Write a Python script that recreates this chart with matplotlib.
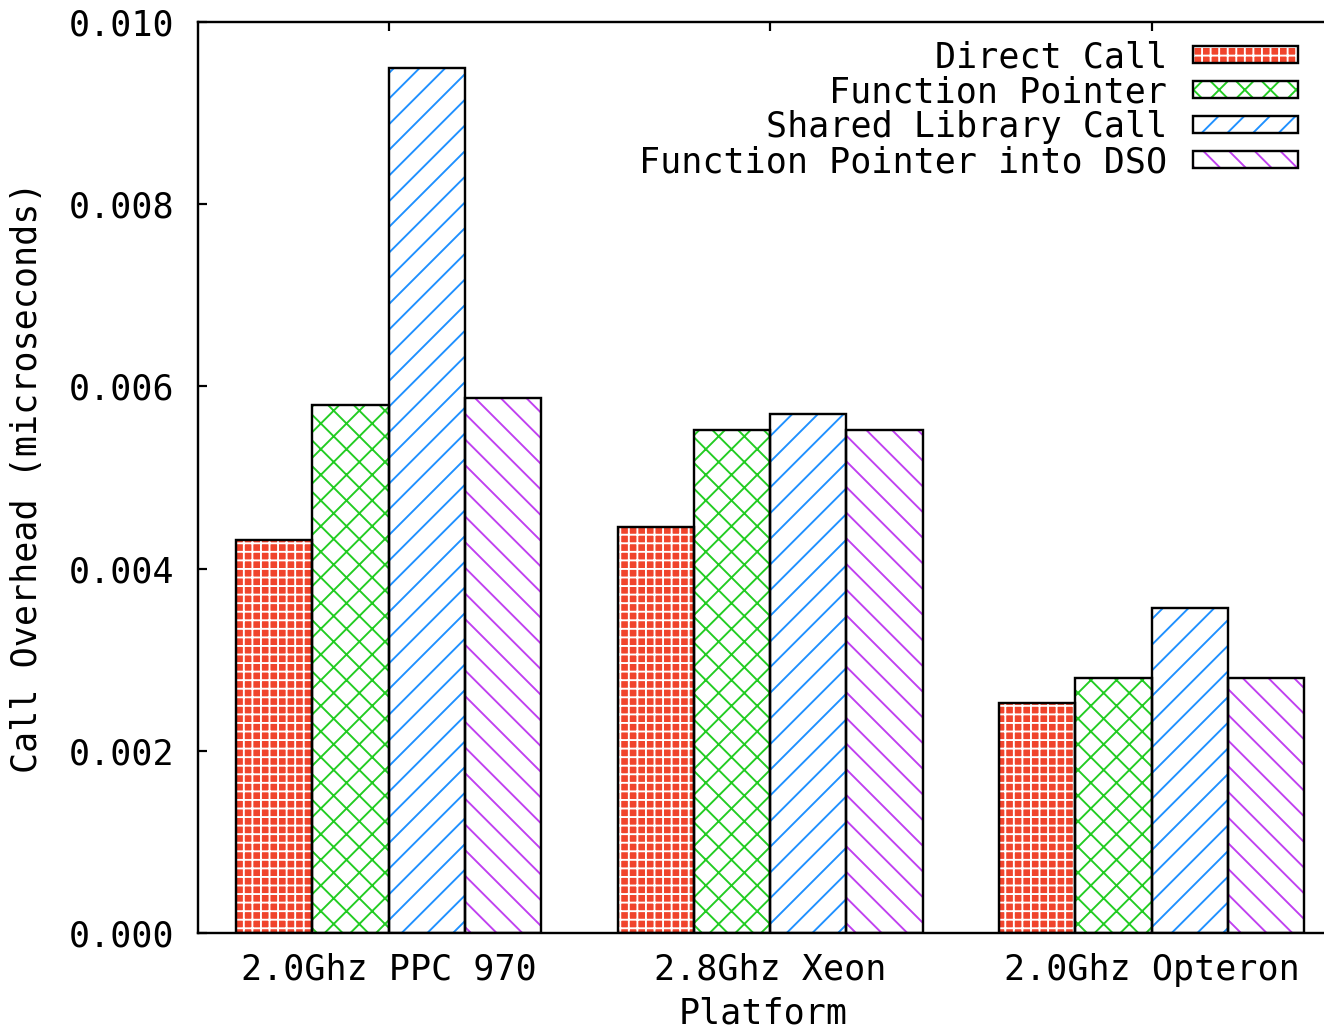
import matplotlib
matplotlib.use("Agg")
import matplotlib.pyplot as plt
from matplotlib.patches import Rectangle
from matplotlib.legend_handler import HandlerTuple
import numpy as np

platforms = ["2.0Ghz PPC 970", "2.8Ghz Xeon", "2.0Ghz Opteron"]
series_names = ["Direct Call", "Function Pointer", "Shared Library Call",
                "Function Pointer into DSO"]
direct_call = [0.00431, 0.00446, 0.00252]
function_pointer = [0.00580, 0.00552, 0.00280]
shared_library_call = [0.00950, 0.00570, 0.00357]
fp_into_dso = [0.00587, 0.00552, 0.00280]
y_ticks = [0.000, 0.002, 0.004, 0.006, 0.008, 0.010]

series = [direct_call, function_pointer, shared_library_call, fp_into_dso]
# (face colour, hatch colour, hatch pattern)
styles = [
    ("#f0442c", "white", "+++"),
    ("white", "#22cc22", "xx"),
    ("white", "#1e90ff", "//"),
    ("white", "#c040f0", "\\\\"),
]

# Agg draws one hatch tile per inch, so the dpi sets the hatch spacing.
DPI = 154
W, H = 1325, 1032


def pt(px):
    """Convert a size in output pixels to points."""
    return px * 72.0 / DPI


plt.rcParams["font.family"] = ["DejaVu Sans Mono"]
plt.rcParams["hatch.linewidth"] = pt(1.9)

fig = plt.figure(figsize=(W / DPI, H / DPI), dpi=DPI)
ax = fig.add_axes([198 / W, 1 - 933 / H, 1 - 198 / W + 0.003, (933 - 22) / H])

x = np.arange(len(platforms))
width = 0.2
offsets = [-0.3, -0.1, 0.1, 0.3]
edge_w = pt(2.4)
handles = []
for vals, off, (fc, hc, hp) in zip(series, offsets, styles):
    ax.bar(x + off, vals, width, facecolor=fc, edgecolor=hc, hatch=hp,
           linewidth=0, zorder=2)
    ax.bar(x + off, vals, width, fill=False, edgecolor="black",
           linewidth=edge_w, zorder=3)
    h1 = Rectangle((0, 0), 1, 1, facecolor=fc, edgecolor=hc, hatch=hp,
                   linewidth=0)
    h2 = Rectangle((0, 0), 1, 1, fill=False, edgecolor="black",
                   linewidth=edge_w)
    handles.append((h1, h2))

ax.set_xlim(-0.5, 2.465)
ax.set_ylim(0, 0.010)
ax.set_yticks(y_ticks)
ax.set_yticklabels([f"{v:.3f}" for v in y_ticks])
ax.set_xticks(x)
ax.set_xticklabels(platforms)

fs = pt(35)
ax.tick_params(axis="both", direction="in", length=pt(9), width=pt(2.2),
               labelsize=fs, top=True, right=False)
ax.tick_params(axis="y", pad=pt(24))
ax.tick_params(axis="x", pad=pt(20))
for s in ["left", "top", "bottom"]:
    ax.spines[s].set_linewidth(pt(2.4))
ax.spines["right"].set_visible(False)

ax.set_xlabel("Platform", fontsize=fs, labelpad=pt(9))
ax.set_ylabel("Call Overhead (microseconds)", fontsize=fs, labelpad=pt(24))

leg = ax.legend(handles, series_names,
                handler_map={tuple: HandlerTuple(ndivide=1, pad=0)},
                loc="upper right", bbox_to_anchor=(1298 / W, 1 - 40 / H),
                bbox_transform=fig.transFigure,
                frameon=False, markerfirst=False, fontsize=fs,
                handlelength=105 / 35, handleheight=14 / 35,
                labelspacing=0.03, handletextpad=26 / 35, borderaxespad=0,
                borderpad=0)

fig.savefig("out.png", dpi=DPI)
